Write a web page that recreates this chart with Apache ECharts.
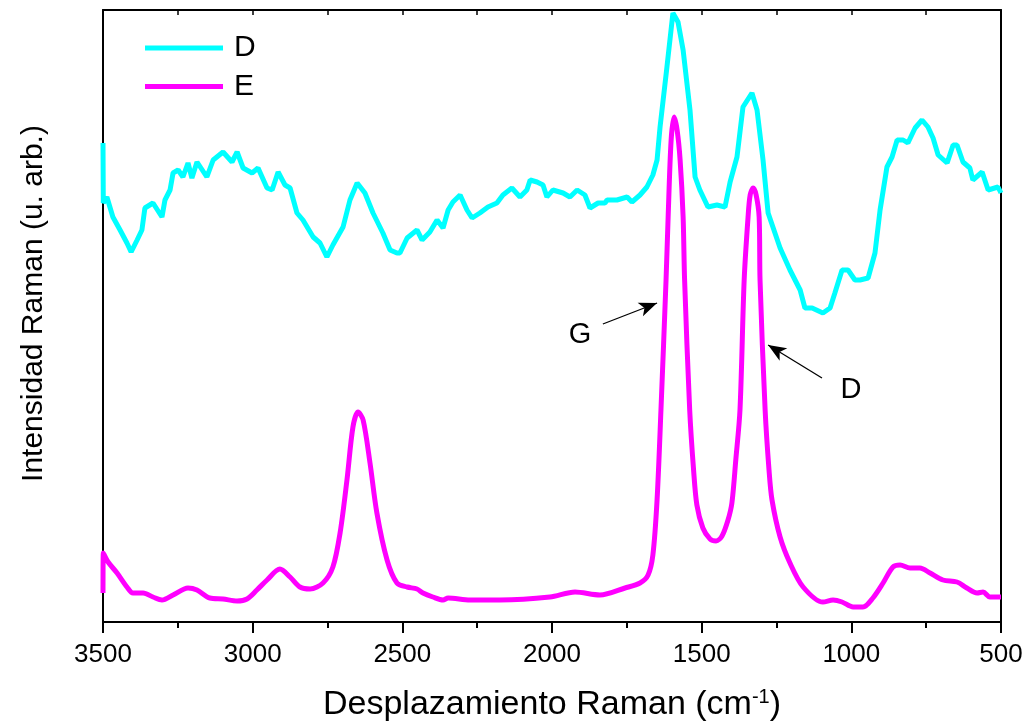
<!DOCTYPE html>
<html>
<head>
<meta charset="utf-8">
<script src="https://cdn.jsdelivr.net/npm/echarts@6/dist/echarts.min.js"></script>
<style>html,body{margin:0;padding:0;background:#fff}#c{width:1030px;height:723px}</style>
</head>
<body>
<div id="c"></div>
<script>
// Raman shift (cm-1), intensity (arb. units)
const seriesNames = ['D', 'E'];
const dataD = [[3500,479],[3499,419],[3487,425],[3467,405],[3443,392],[3420,379],[3406,370],[3386,382],[3370,392],[3360,414],[3333,419],[3303,405],[3293,422],[3276,432],[3266,449],[3249,452],[3233,445],[3216,459],[3203,444],[3186,460],[3153,445],[3132,462],[3099,470],[3069,460],[3052,470],[3032,454],[3002,449],[2982,454],[2952,434],[2935,432],[2915,450],[2892,437],[2875,434],[2852,409],[2832,402],[2798,385],[2775,379],[2752,365],[2732,377],[2698,395],[2675,422],[2651,439],[2625,429],[2598,409],[2565,389],[2541,372],[2518,369],[2508,369],[2484,384],[2451,392],[2434,382],[2408,390],[2384,402],[2364,394],[2347,412],[2331,420],[2307,427],[2284,412],[2267,404],[2241,409],[2214,415],[2184,419],[2164,427],[2134,434],[2107,425],[2084,432],[2073,442],[2050,440],[2030,437],[2017,425],[1997,432],[1963,429],[1940,425],[1916,432],[1890,427],[1873,414],[1846,419],[1823,419],[1816,422],[1783,422],[1749,425],[1733,420],[1706,427],[1683,435],[1663,447],[1649,462],[1639,495],[1616,555],[1596,609],[1579,600],[1562,572],[1539,512],[1522,445],[1506,432],[1479,415],[1449,417],[1422,415],[1405,440],[1382,465],[1362,515],[1332,529],[1315,512],[1295,462],[1278,409],[1238,374],[1205,352],[1171,332],[1155,314],[1131,314],[1095,309],[1071,314],[1055,329],[1031,352],[1011,352],[988,342],[971,342],[944,344],[921,369],[904,412],[881,455],[864,465],[847,482],[827,482],[811,479],[787,494],[764,502],[744,495],[727,484],[710,467],[680,459],[660,477],[647,477],[627,460],[604,454],[594,442],[563,450],[543,432],[510,435],[500,429]];
const dataE = [[3500,29],[3499,69],[3483,60],[3453,49],[3420,35],[3400,29],[3366,29],[3333,25],[3303,22],[3266,27],[3216,34],[3186,32],[3143,24],[3099,23],[3052,21],[3019,23],[2986,32],[2952,42],[2909,53],[2875,45],[2842,35],[2808,33],[2765,39],[2732,55],[2708,89],[2685,142],[2665,195],[2648,210],[2631,202],[2608,159],[2585,109],[2551,62],[2518,39],[2484,35],[2451,33],[2431,29],[2398,25],[2364,22],[2347,24],[2274,22],[2174,22],[2007,25],[1923,30],[1840,27],[1756,34],[1706,39],[1679,47],[1663,67],[1649,122],[1636,212],[1619,342],[1612,405],[1602,482],[1592,505],[1582,492],[1572,462],[1562,405],[1557,342],[1540,212],[1527,152],[1516,117],[1496,94],[1472,83],[1452,81],[1432,86],[1412,102],[1399,119],[1386,162],[1372,212],[1358,342],[1345,405],[1338,427],[1328,434],[1318,427],[1308,405],[1305,342],[1288,212],[1275,152],[1265,122],[1238,85],[1205,59],[1161,35],[1095,20],[1061,22],[1031,20],[994,15],[961,15],[928,24],[894,39],[861,55],[837,57],[804,54],[771,54],[737,49],[694,42],[647,40],[614,34],[580,29],[560,30],[537,25],[503,25],[500,25]];
const xTicks = [3500, 3000, 2500, 2000, 1500, 1000, 500];
// annotations in data units
const annotLabels = ['G', 'D'];
const annotText = [[1906, 287], [1001, 232]];
const annotFrom = [[1830, 298], [1098, 244]];
const annotTo = [[1649, 319], [1278, 277]];

const FONT = '"Liberation Sans", Arial, sans-serif';
const chart = echarts.init(document.getElementById('c'), null, {renderer: 'canvas'});
const xMin = Math.min(...xTicks), xMax = Math.max(...xTicks);
chart.setOption({
  animation: false,
  backgroundColor: '#fff',
  grid: {left: 103, right: 29, top: 10, bottom: 101, containLabel: false, outerBoundsMode: 'none'},
  legend: {
    data: seriesNames,
    orient: 'vertical',
    left: 145, top: 33, padding: 0,
    icon: 'rect',
    itemWidth: 78, itemHeight: 5,
    itemGap: 8.5,
    textStyle: {fontFamily: FONT, fontSize: 30, color: '#000', lineHeight: 30, padding: [0, 0, 0, 6]}
  },
  xAxis: [{
    type: 'value', inverse: true, min: xMin, max: xMax, interval: 500,
    position: 'bottom',
    axisLine: {show: true, onZero: false, lineStyle: {color: '#000', width: 2}},
    axisTick: {show: true, inside: false, length: 11, lineStyle: {color: '#000', width: 2}},
    minorTick: {show: true, splitNumber: 2, length: 6, lineStyle: {color: '#000', width: 2}},
    splitLine: {show: false},
    axisLabel: {fontFamily: FONT, fontSize: 26, color: '#000', margin: 20, formatter: v => String(v)},
    name: 'Desplazamiento Raman (cm{sup|-1})',
    nameLocation: 'middle', nameGap: 65,
    nameTextStyle: {fontFamily: FONT, fontSize: 34, color: '#000',
      rich: {sup: {fontFamily: FONT, fontSize: 20, color: '#000', verticalAlign: 'top', padding: [0, 0, 16, 0]}}}
  }, {
    type: 'value', inverse: true, min: xMin, max: xMax, interval: 250,
    position: 'top',
    axisLine: {show: true, onZero: false, lineStyle: {color: '#000', width: 2}},
    axisTick: {show: true, inside: true, length: 5, lineStyle: {color: '#000', width: 1.5}},
    axisLabel: {show: false}, splitLine: {show: false}
  }],
  yAxis: [{
    type: 'value', min: 0, max: 612, position: 'left',
    axisLine: {show: true, onZero: false, lineStyle: {color: '#000', width: 2}},
    axisTick: {show: false}, axisLabel: {show: false}, splitLine: {show: false},
    name: 'Intensidad Raman (u. arb.)', nameLocation: 'middle', nameGap: 54,
    nameTextStyle: {fontFamily: FONT, fontSize: 30, color: '#000', padding: [0, 0, 0, 25]}
  }, {
    type: 'value', min: 0, max: 612, position: 'right',
    axisLine: {show: true, onZero: false, lineStyle: {color: '#000', width: 2}},
    axisTick: {show: false}, axisLabel: {show: false}, splitLine: {show: false}
  }],
  series: [{
    name: seriesNames[0], type: 'line', data: dataD, showSymbol: false, symbol: 'none',
    lineStyle: {color: '#00FFFF', width: 5}, itemStyle: {color: '#00FFFF'}, z: 3
  }, {
    name: seriesNames[1], type: 'line', data: dataE, showSymbol: false, symbol: 'none', smooth: 0.3,
    lineStyle: {color: '#FF00FF', width: 5}, itemStyle: {color: '#FF00FF'}, z: 4,
    markLine: {
      silent: true, symbol: ['none', 'arrow'], symbolSize: [11, 18],
      lineStyle: {color: '#000', width: 1.3, type: 'solid'},
      label: {show: false},
      data: annotFrom.map((p, i) => [{coord: p}, {coord: annotTo[i]}])
    },
    markPoint: {
      silent: true, symbol: 'circle', symbolSize: 0,
      label: {show: true, position: 'inside', fontFamily: FONT, fontSize: 29, color: '#000', formatter: p => p.name},
      data: annotText.map((p, i) => ({name: annotLabels[i], coord: p}))
    }
  }]
});
</script>
</body>
</html>
